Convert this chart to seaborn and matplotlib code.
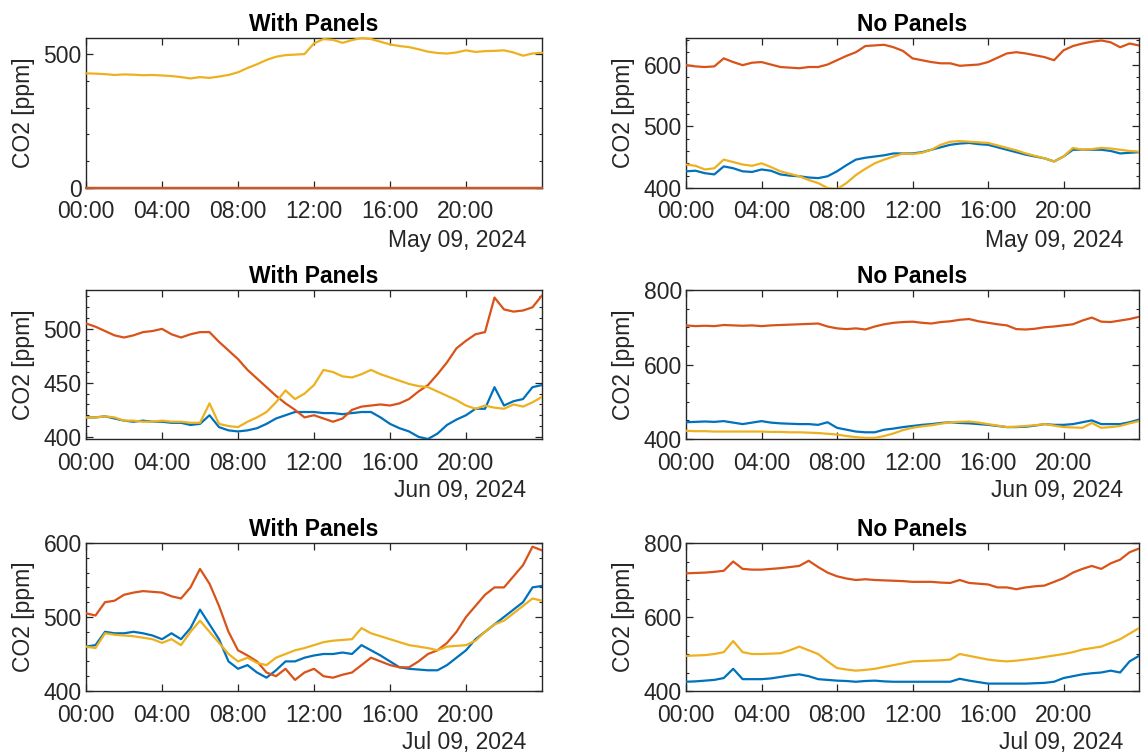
import numpy as np
import pandas as pd
import matplotlib
matplotlib.use("Agg")
import matplotlib.pyplot as plt
import matplotlib.dates as mdates
from matplotlib.ticker import MultipleLocator
import seaborn as sns

sns.set_theme(style="white")
plt.rcParams["font.family"] = ["Liberation Sans", "DejaVu Sans"]

# Half-hourly CO2 readings (ppm), 00:00 .. 24:00, three sensors per site
DAYS = ["2024-05-09", "2024-06-09", "2024-07-09"]
DATE_LABELS = ["May 09, 2024", "Jun 09, 2024", "Jul 09, 2024"]
SENSORS = ["S1", "S2", "S3"]
SENSOR_COLORS = ["#0072BD", "#D95319", "#EDB120"]

may_panels_s1 = [0] * 49
may_panels_s2 = [0] * 49
may_panels_s3 = [
    428, 427, 425, 422, 424, 423, 421,
    422, 420, 418, 414, 409, 414, 411,
    416, 422, 432, 448, 462, 478, 490,
    496, 498, 500, 540, 556, 553, 542,
    552, 560, 556, 546, 536, 530, 526,
    518, 509, 504, 502, 506, 514, 508,
    511, 512, 514, 506, 494, 502, 505,
]

may_open_s1 = [
    427, 428, 424, 422, 435, 432, 427,
    426, 430, 428, 422, 420, 419, 417,
    416, 419, 427, 437, 446, 449, 451,
    453, 456, 456, 456, 458, 462, 466,
    470, 472, 473, 471, 470, 466, 462,
    458, 454, 451, 448, 443, 451, 462,
    462, 462, 462, 460, 456, 457, 458,
]
may_open_s2 = [
    599, 597, 596, 597, 610, 604, 599,
    603, 604, 600, 596, 595, 594, 596,
    596, 600, 607, 614, 620, 630, 631,
    632, 628, 622, 610, 607, 604, 602,
    602, 598, 599, 600, 604, 611, 618,
    620, 618, 615, 612, 607, 623, 630,
    634, 637, 639, 636, 628, 634, 631,
]
may_open_s3 = [
    438, 436, 430, 432, 446, 442, 438,
    436, 440, 434, 427, 423, 419, 413,
    408, 400, 398, 408, 421, 431, 440,
    446, 451, 456, 455, 457, 462, 470,
    475, 476, 475, 474, 473, 469, 465,
    461, 456, 452, 448, 443, 451, 465,
    462, 463, 465, 464, 462, 460, 459,
]

jun_panels_s1 = [
    418, 418, 419, 417, 415, 414, 415,
    414, 414, 413, 413, 411, 412, 420,
    409, 406, 405, 406, 408, 412, 417,
    420, 423, 423, 423, 422, 422, 421,
    422, 423, 423, 418, 412, 408, 405,
    400, 398, 403, 411, 416, 420, 426,
    426, 446, 429, 433, 435, 446, 448,
]
jun_panels_s2 = [
    505, 502, 498, 494, 492, 494, 497,
    498, 500, 495, 492, 495, 497, 497,
    488, 480, 472, 462, 454, 446, 438,
    431, 425, 418, 420, 417, 414, 417,
    425, 428, 429, 430, 429, 431, 435,
    442, 448, 458, 469, 482, 489, 495,
    497, 529, 518, 516, 517, 520, 531,
]
jun_panels_s3 = [
    418, 418, 419, 418, 415, 415, 414,
    414, 415, 414, 414, 413, 413, 431,
    412, 410, 409, 414, 418, 423, 432,
    443, 435, 440, 448, 462, 460, 456,
    455, 458, 462, 458, 455, 452, 449,
    447, 446, 442, 438, 434, 429, 426,
    429, 427, 426, 430, 428, 432, 437,
]

jun_open_s1 = [
    445, 446, 447, 446, 448, 444, 440,
    444, 448, 444, 442, 441, 440, 440,
    438, 445, 430, 425, 420, 418, 418,
    425, 428, 432, 435, 438, 440, 443,
    445, 443, 442, 440, 438, 435, 432,
    432, 433, 436, 440, 438, 438, 440,
    445, 450, 440, 440, 440, 445, 452,
]
jun_open_s2 = [
    705, 703, 704, 703, 706, 705, 704,
    705, 703, 705, 706, 707, 708, 709,
    710, 702, 697, 695, 697, 694, 702,
    708, 712, 714, 715, 712, 710, 714,
    716, 720, 722, 716, 712, 708, 705,
    695, 694, 696, 700, 702, 705, 708,
    718, 726, 715, 714, 718, 722, 728,
]
jun_open_s3 = [
    422, 421, 421, 420, 420, 420, 420,
    420, 420, 419, 419, 418, 418, 417,
    416, 414, 412, 408, 405, 403, 403,
    408, 415, 424, 430, 434, 437, 441,
    445, 446, 447, 444, 440, 436, 432,
    433, 435, 437, 440, 436, 432, 431,
    430, 443, 430, 432, 435, 442, 448,
]

jul_panels_s1 = [
    460, 462, 480, 478, 478, 480, 478,
    475, 470, 478, 470, 485, 510, 490,
    470, 440, 430, 435, 425, 418, 428,
    440, 440, 445, 448, 450, 450, 452,
    450, 462, 455, 448, 440, 432, 430,
    429, 428, 428, 435, 445, 455, 470,
    480, 490, 500, 510, 520, 540, 542,
]
jul_panels_s2 = [
    505, 502, 520, 522, 530, 533, 535,
    534, 533, 528, 525, 540, 565, 545,
    515, 480, 455, 448, 440, 425, 420,
    430, 415, 425, 430, 420, 418, 422,
    425, 435, 445, 440, 435, 432, 432,
    440, 450, 455, 465, 480, 500, 515,
    530, 540, 540, 555, 570, 595, 590,
]
jul_panels_s3 = [
    460, 458, 478, 476, 475, 474, 472,
    470, 465, 470, 462, 480, 495, 480,
    465, 450, 440, 445, 438, 435, 445,
    450, 455, 458, 462, 466, 468, 469,
    470, 485, 478, 474, 470, 466, 462,
    460, 458, 455, 460, 461, 462, 468,
    480, 490, 495, 505, 515, 525, 522,
]

jul_open_s1 = [
    425, 426, 428, 430, 435, 460, 432,
    432, 432, 434, 438, 442, 445, 440,
    432, 430, 428, 427, 425, 427, 428,
    426, 425, 425, 425, 425, 425, 425,
    425, 433, 428, 424, 420, 420, 420,
    420, 420, 421, 422, 425, 435, 440,
    445, 448, 450, 455, 450, 480, 495,
]
jul_open_s2 = [
    718, 719, 720, 722, 725, 750, 730,
    728, 728, 730, 732, 735, 738, 752,
    735, 720, 710, 704, 700, 702, 700,
    699, 698, 697, 695, 695, 695, 693,
    692, 700, 692, 690, 688, 680, 680,
    675, 680, 683, 685, 695, 705, 720,
    730, 738, 730, 745, 755, 775, 785,
]
jul_open_s3 = [
    495, 496, 497, 500, 505, 535, 505,
    500, 500, 501, 502, 510, 520, 510,
    500, 480, 462, 458, 455, 457, 460,
    465, 470, 475, 480, 481, 482, 483,
    485, 500, 495, 490, 485, 482, 480,
    482, 485, 488, 492, 496, 500, 505,
    512, 516, 520, 530, 540, 555, 570,
]

PANEL_TITLES = ["With Panels", "No Panels"]
panels = [
    [(may_panels_s1, may_panels_s2, may_panels_s3), (may_open_s1, may_open_s2, may_open_s3)],
    [(jun_panels_s1, jun_panels_s2, jun_panels_s3), (jun_open_s1, jun_open_s2, jun_open_s3)],
    [(jul_panels_s1, jul_panels_s2, jul_panels_s3), (jul_open_s1, jul_open_s2, jul_open_s3)],
]
# y-range, major step, minor step for each panel
y_setup = [
    [((0, 560), 500, 100), ((400, 643), 100, 20)],
    [((398, 536), 50, 10), ((400, 800), 200, 50)],
    [((400, 600), 100, 20), ((400, 800), 200, 50)],
]

W, H = 1142, 756
fig = plt.figure(figsize=(W / 100, H / 100), dpi=100)
fig.patch.set_facecolor("white")

col_x = [(86, 542), (686, 1139)]
row_y = [(38, 188), (290, 439), (543, 691)]
AX_COLOR = "#262626"
FS = 16.5
PX = 72 / 100  # points per pixel

for r, day in enumerate(DAYS):
    t = pd.date_range(day, periods=49, freq="30min")
    t0 = pd.Timestamp(day)
    for c in range(2):
        x0, x1 = col_x[c]
        y0, y1 = row_y[r]
        ax = fig.add_axes([x0 / W, 1 - y1 / H, (x1 - x0) / W, (y1 - y0) / H])
        series = panels[r][c]
        df = pd.DataFrame({
            "time": np.tile(t, 3),
            "co2": np.concatenate([np.asarray(s, dtype=float) for s in series]),
            "sensor": np.repeat(SENSORS, 49),
        })
        sns.lineplot(data=df, x="time", y="co2", hue="sensor",
                     hue_order=SENSORS, palette=SENSOR_COLORS,
                     linewidth=1.6, legend=False, ax=ax, zorder=3)

        (lo, hi), major, minor = y_setup[r][c]
        # sensors reading zero sit on the lower frame edge; keep them whole
        if lo == 0:
            for ln in ax.lines:
                ln.set_clip_on(False)
        ax.set_ylim(lo, hi)
        first = int(np.ceil(lo / major) * major)
        ax.set_yticks(np.arange(first, hi + 1e-9, major))
        ax.yaxis.set_minor_locator(MultipleLocator(minor))
        ax.set_xlim(t0, t0 + pd.Timedelta(hours=24))
        ax.set_xticks([t0 + pd.Timedelta(hours=h) for h in range(0, 24, 4)])
        ax.xaxis.set_major_formatter(mdates.DateFormatter("%H:%M"))

        ax.tick_params(which="both", direction="in", top=True, right=True,
                       left=True, bottom=True, color=AX_COLOR,
                       labelcolor=AX_COLOR, labelsize=FS)
        ax.tick_params(axis="y", which="major", pad=3)
        ax.tick_params(axis="x", which="major", pad=9)
        ax.tick_params(which="major", length=5, width=0.9)
        ax.tick_params(which="minor", length=2.5, width=0.8)
        ax.tick_params(axis="x", which="minor", bottom=False, top=False)
        for sp in ax.spines.values():
            sp.set_visible(True)
            sp.set_color(AX_COLOR)
            sp.set_linewidth(1.0)
            sp.set_zorder(2.5)

        ax.set_xlabel("")
        ax.set_ylabel("CO2 [ppm]", fontsize=FS, color=AX_COLOR, labelpad=6)
        ax.set_title(PANEL_TITLES[c], fontsize=FS, fontweight="bold",
                     color="black", pad=5)
        ax.annotate(DATE_LABELS[r], xy=(0.965, 0), xycoords="axes fraction",
                    xytext=(0, -52 * PX), textcoords="offset points",
                    ha="right", va="center", fontsize=FS, color=AX_COLOR)

fig.savefig("out.png", dpi=100, facecolor="white")
